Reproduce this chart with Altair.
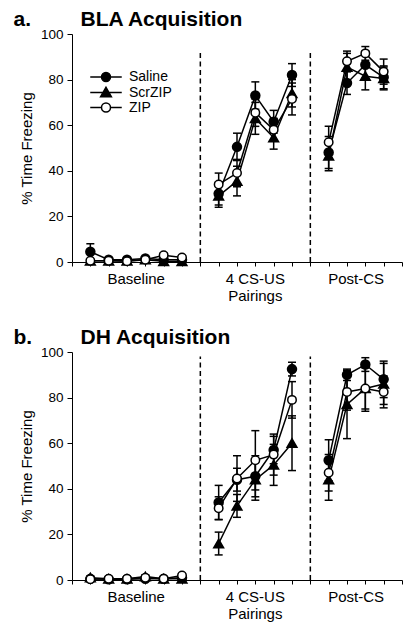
import altair as alt
import pandas as pd

FONT = "Liberation Sans"

groups = ["Saline", "ScrZIP", "ZIP"]
trials = [1, 2, 3, 4, 5, 6, 8, 9, 10, 11, 12, 14, 15, 16, 17]
phases = ["Baseline"] * 6 + ["CS"] * 5 + ["Post"] * 4
phase_labels = ["Baseline", "4 CS-US\nPairings", "Post-CS"]
phase_centers = [3.5, 10, 15.5]
divider_trials = [7, 13]

# Panel a: BLA Acquisition (mean % freezing, SEM)
bla_saline = [4.5, 1.0, 1.0, 1.5, 1.0, 1.0, 30, 50.5, 73, 61.5, 82, 48, 78.5, 86.5, 81]
bla_scrzip = [0.5, 0.5, 0.5, 1.0, 0.3, 0.3, 29, 35.5, 63, 54.5, 74, 46.5, 85.5, 81.5, 80.5]
bla_zip = [0.5, 0.5, 0.3, 1.0, 3.0, 2.0, 34, 39, 65.5, 58, 71.5, 52.5, 88, 91.5, 83.5]
bla_saline_sem = [3.5, 0.8, 0.6, 0.8, 0.6, 0.6, 5, 6, 6, 5, 5, 7, 5, 6, 5]
bla_scrzip_sem = [0.5, 0.5, 0.5, 0.6, 0.4, 0.4, 5, 6.5, 7, 5, 6, 6.5, 6, 6, 5]
bla_zip_sem = [0.5, 0.5, 0.4, 0.8, 1.0, 0.8, 5, 6, 6, 5, 7, 7, 4.5, 3, 5.5]

# Panel b: DH Acquisition
dh_saline = [0.5, 0.3, 0.3, 0.5, 0.5, 1.0, 34, 44, 45.5, 57, 92.5, 52.5, 90, 94.5, 88]
dh_scrzip = [1.0, 0.5, 0.5, 1.5, 0.5, 0.5, 16, 32.5, 44, 50.5, 60, 44, 77, 84, 86]
dh_zip = [0.3, 0.5, 0.5, 1.0, 0.5, 2.0, 31.5, 44.5, 52.5, 55, 79, 47, 82.5, 84, 82.5]
dh_saline_sem = [0.5, 0.4, 0.4, 0.5, 0.5, 0.8, 7.5, 5, 9, 6, 3, 9, 2.5, 3, 8]
dh_scrzip_sem = [0.8, 0.5, 0.5, 0.8, 0.5, 0.5, 5, 5, 9, 9, 12, 9, 15, 10, 9]
dh_zip_sem = [0.4, 0.5, 0.5, 0.8, 0.5, 0.8, 5, 10, 13, 9, 8, 8, 8, 9, 7]

CIRCLE_PATH = "M-3.5,0H-1M1,0H3.5M-1,0A1,1,0,1,0,1,0A1,1,0,1,0,-1,0Z"
TRI_PATH = "M-3.5,0H3.5M0,-1.15L1.2,0.95L-1.2,0.95Z"

W, H = 330, 228


def make_df(series, sems):
    rows = []
    for g, vals, errs in zip(groups, series, sems):
        for t, ph, v, e in zip(trials, phases, vals, errs):
            rows.append({"trial": t, "phase": ph, "group": g, "mean": v,
                         "lo": max(v - e, 0), "hi": v + e})
    return pd.DataFrame(rows)


def panel(df, letter, title, rule_top):
    xs = alt.Scale(domain=[0, 18], nice=False, zero=False)
    ys = alt.Scale(domain=[0, 100], nice=False)
    xa = alt.Axis(values=list(range(19)), labels=False, title=None, grid=False,
                  tickSize=4, tickColor="black", domainColor="black",
                  tickWidth=1, domainWidth=1)
    ya = alt.Axis(values=[0, 20, 40, 60, 80, 100], title="% Time Freezing", grid=False,
                  tickSize=5, tickColor="black", domainColor="black", tickWidth=1,
                  domainWidth=1, labelFontSize=13.5, labelColor="black",
                  titleFontSize=15, titleFontWeight="normal", titleColor="black",
                  labelPadding=4, titlePadding=6)

    def X(f="trial"):
        return alt.X(f"{f}:Q", scale=xs, axis=xa)

    def Y(f):
        return alt.Y(f"{f}:Q", scale=ys, axis=ya)

    base = alt.Chart(df)

    div_df = pd.DataFrame({"trial": divider_trials, "bottom": [0, 0],
                           "top": [rule_top, rule_top]})
    dividers = alt.Chart(div_df).mark_rule(color="black", strokeWidth=1.5,
                                           strokeDash=[5, 3.5]).encode(
        x=X(), y=Y("bottom"), y2="top:Q")

    err = base.mark_rule(color="black", strokeWidth=1.5).encode(
        x=X(), y=Y("lo"), y2="hi:Q")
    cap_lo = base.mark_tick(color="black", orient="horizontal", size=8,
                            thickness=1.5, opacity=1).encode(x=X(), y=Y("lo"))
    cap_hi = base.mark_tick(color="black", orient="horizontal", size=8,
                            thickness=1.5, opacity=1).encode(x=X(), y=Y("hi"))
    lines = base.mark_line(color="black", strokeWidth=1.5).encode(
        x=X(), y=Y("mean"), detail=["group:N", "phase:N"])

    p_sal = base.transform_filter(alt.datum.group == "Saline").mark_point(
        shape="circle", filled=True, fill="black", stroke="black", size=72,
        opacity=1).encode(x=X(), y=Y("mean"))
    p_scr = base.transform_filter(alt.datum.group == "ScrZIP").mark_point(
        shape="triangle-up", filled=True, fill="black", stroke="black", size=80,
        opacity=1).encode(x=X(), y=Y("mean"))
    p_zip = base.transform_filter(alt.datum.group == "ZIP").mark_point(
        shape="circle", filled=True, fill="white", stroke="black", strokeWidth=1.5,
        size=72, opacity=1).encode(x=X(), y=Y("mean"))

    leg = alt.Legend(title=None, orient="none", legendX=27, legendY=36,
                     symbolSize=81, symbolStrokeWidth=1.5, symbolStrokeColor="black",
                     labelFontSize=14, labelFont=FONT, labelColor="black",
                     labelOffset=16, rowPadding=-1.5, padding=0)
    legend_layer = base.transform_filter("false").mark_point(
        color="black", opacity=1, strokeWidth=1.5).encode(
        x=X(), y=Y("mean"),
        shape=alt.Shape("group:N", scale=alt.Scale(domain=groups,
                        range=[CIRCLE_PATH, TRI_PATH, CIRCLE_PATH]), legend=leg),
        fill=alt.Fill("group:N", scale=alt.Scale(domain=groups,
                      range=["black", "black", "white"]), legend=leg),
        stroke=alt.Stroke("group:N", scale=alt.Scale(domain=groups,
                          range=["black", "black", "black"]), legend=leg))

    lab_df = pd.DataFrame({"trial": phase_centers, "label": phase_labels})
    phase_text = alt.Chart(lab_df).mark_text(
        baseline="alphabetic", align="center", fontSize=15, lineHeight=17,
        lineBreak="\n", font=FONT, color="black").encode(
        x=X(), y=alt.value(H + 22), text="label:N")

    ttl = alt.Chart(pd.DataFrame({"t": [title]})).mark_text(
        align="left", baseline="alphabetic", fontSize=21, fontWeight="bold",
        font=FONT, color="black").encode(
        x=alt.value(8.5), y=alt.value(-8.5), text="t:N")
    let = alt.Chart(pd.DataFrame({"t": [letter]})).mark_text(
        align="left", baseline="alphabetic", fontSize=21, fontWeight="bold",
        font=FONT, color="black").encode(
        x=alt.value(-58.5), y=alt.value(-8.5), text="t:N")

    return alt.layer(dividers, err, cap_lo, cap_hi, lines, p_sal, p_scr, p_zip,
                     legend_layer, phase_text, ttl, let).properties(width=W, height=H)


df_a = make_df([bla_saline, bla_scrzip, bla_zip],
               [bla_saline_sem, bla_scrzip_sem, bla_zip_sem])
df_b = make_df([dh_saline, dh_scrzip, dh_zip],
               [dh_saline_sem, dh_scrzip_sem, dh_zip_sem])

chart = alt.vconcat(
    panel(df_a, "a.", "BLA Acquisition", 92),
    panel(df_b, "b.", "DH Acquisition", 98),
    spacing=22,
).properties(padding={"left": 5, "top": 0, "right": 5, "bottom": 5}).configure(
    font=FONT
).configure_view(stroke=None)

chart.save("out.html", embed_options={"renderer": "svg", "actions": False})
